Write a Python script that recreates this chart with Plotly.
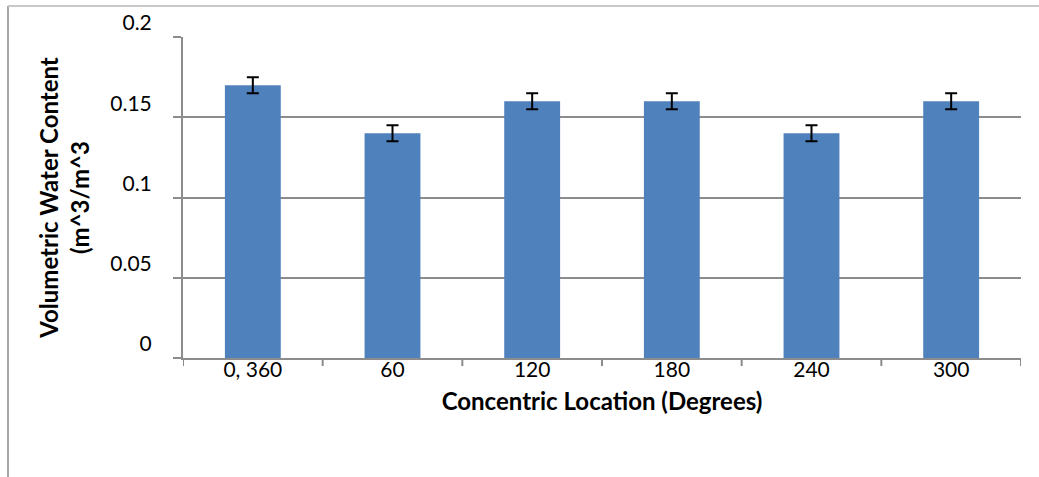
import plotly.graph_objects as go

categories = ["0, 360", "60", "120", "180", "240", "300"]
water_content = [0.17, 0.14, 0.16, 0.16, 0.14, 0.16]
error_values = [0.005, 0.005, 0.005, 0.005, 0.005, 0.005]

FONT = "Lato"
GRID = "#8c8c8c"
positions = list(range(len(categories)))

fig = go.Figure()
fig.add_trace(go.Bar(
    x=positions,
    y=water_content,
    width=0.4,
    marker=dict(color="#4F81BD", line=dict(width=0)),
    error_y=dict(type="data", array=error_values, visible=True,
                 color="#000000", thickness=2, width=6),
))

W, H = 1039, 477
L, R, T, B = 183, 18, 37, 119
pw, ph = W - L - R, H - T - B

def px_x(x):
    return (x - L) / pw

def px_y(y):
    return (H - B - y) / ph

# category boundary tick marks below the x axis (8 px long)
boundary_ticks = [
    dict(type="line", xref="x", yref="paper",
         x0=i - 0.5, x1=i - 0.5, y0=0, y1=-8 / ph,
         line=dict(color=GRID, width=2))
    for i in range(len(categories) + 1)
]

fig.update_layout(
    width=W, height=H,
    margin=dict(l=L, r=R, t=T, b=B, autoexpand=False),
    paper_bgcolor="white", plot_bgcolor="white",
    showlegend=False,
    font=dict(family=FONT, color="#000000"),
    xaxis=dict(
        range=[-0.5, len(categories) - 0.5],
        tickvals=positions, ticktext=categories,
        showline=True, linecolor=GRID, linewidth=2,
        ticks="", ticklen=0, showgrid=False, zeroline=False,
        tickfont=dict(family=FONT, size=21, color="#000000"),
        ticklabelstandoff=-8,
        title=dict(text="<b>Concentric Location (Degrees)</b>",
                   font=dict(family=FONT, size=24, color="#000000"), standoff=13),
    ),
    yaxis=dict(
        range=[0, 0.2], dtick=0.05,
        showline=True, linecolor=GRID, linewidth=2,
        ticks="outside", ticklen=8, tickwidth=2, tickcolor=GRID,
        showgrid=True, gridcolor=GRID, gridwidth=2,
        zeroline=False,
        tickfont=dict(family=FONT, size=21, color="#000000"),
        ticklabelstandoff=17, ticklabelshift=-14,
        title=dict(text="<b>Volumetric Water Content<br>(m^3/m^3</b>",
                   font=dict(family=FONT, size=24, color="#000000"), standoff=14),
    ),
    shapes=boundary_ticks + [
        dict(type="line", xref="paper", yref="paper",
             x0=px_x(8), x1=px_x(8), y0=px_y(6), y1=px_y(H + 20),
             line=dict(color="#a6a6a6", width=2)),
        dict(type="line", xref="paper", yref="paper",
             x0=px_x(8), x1=px_x(W + 20), y0=px_y(6), y1=px_y(6),
             line=dict(color="#c8c8c8", width=2)),
    ],
)

fig.write_html("out.html", config={"displayModeBar": False},
               post_script="document.body.style.margin='0';")
